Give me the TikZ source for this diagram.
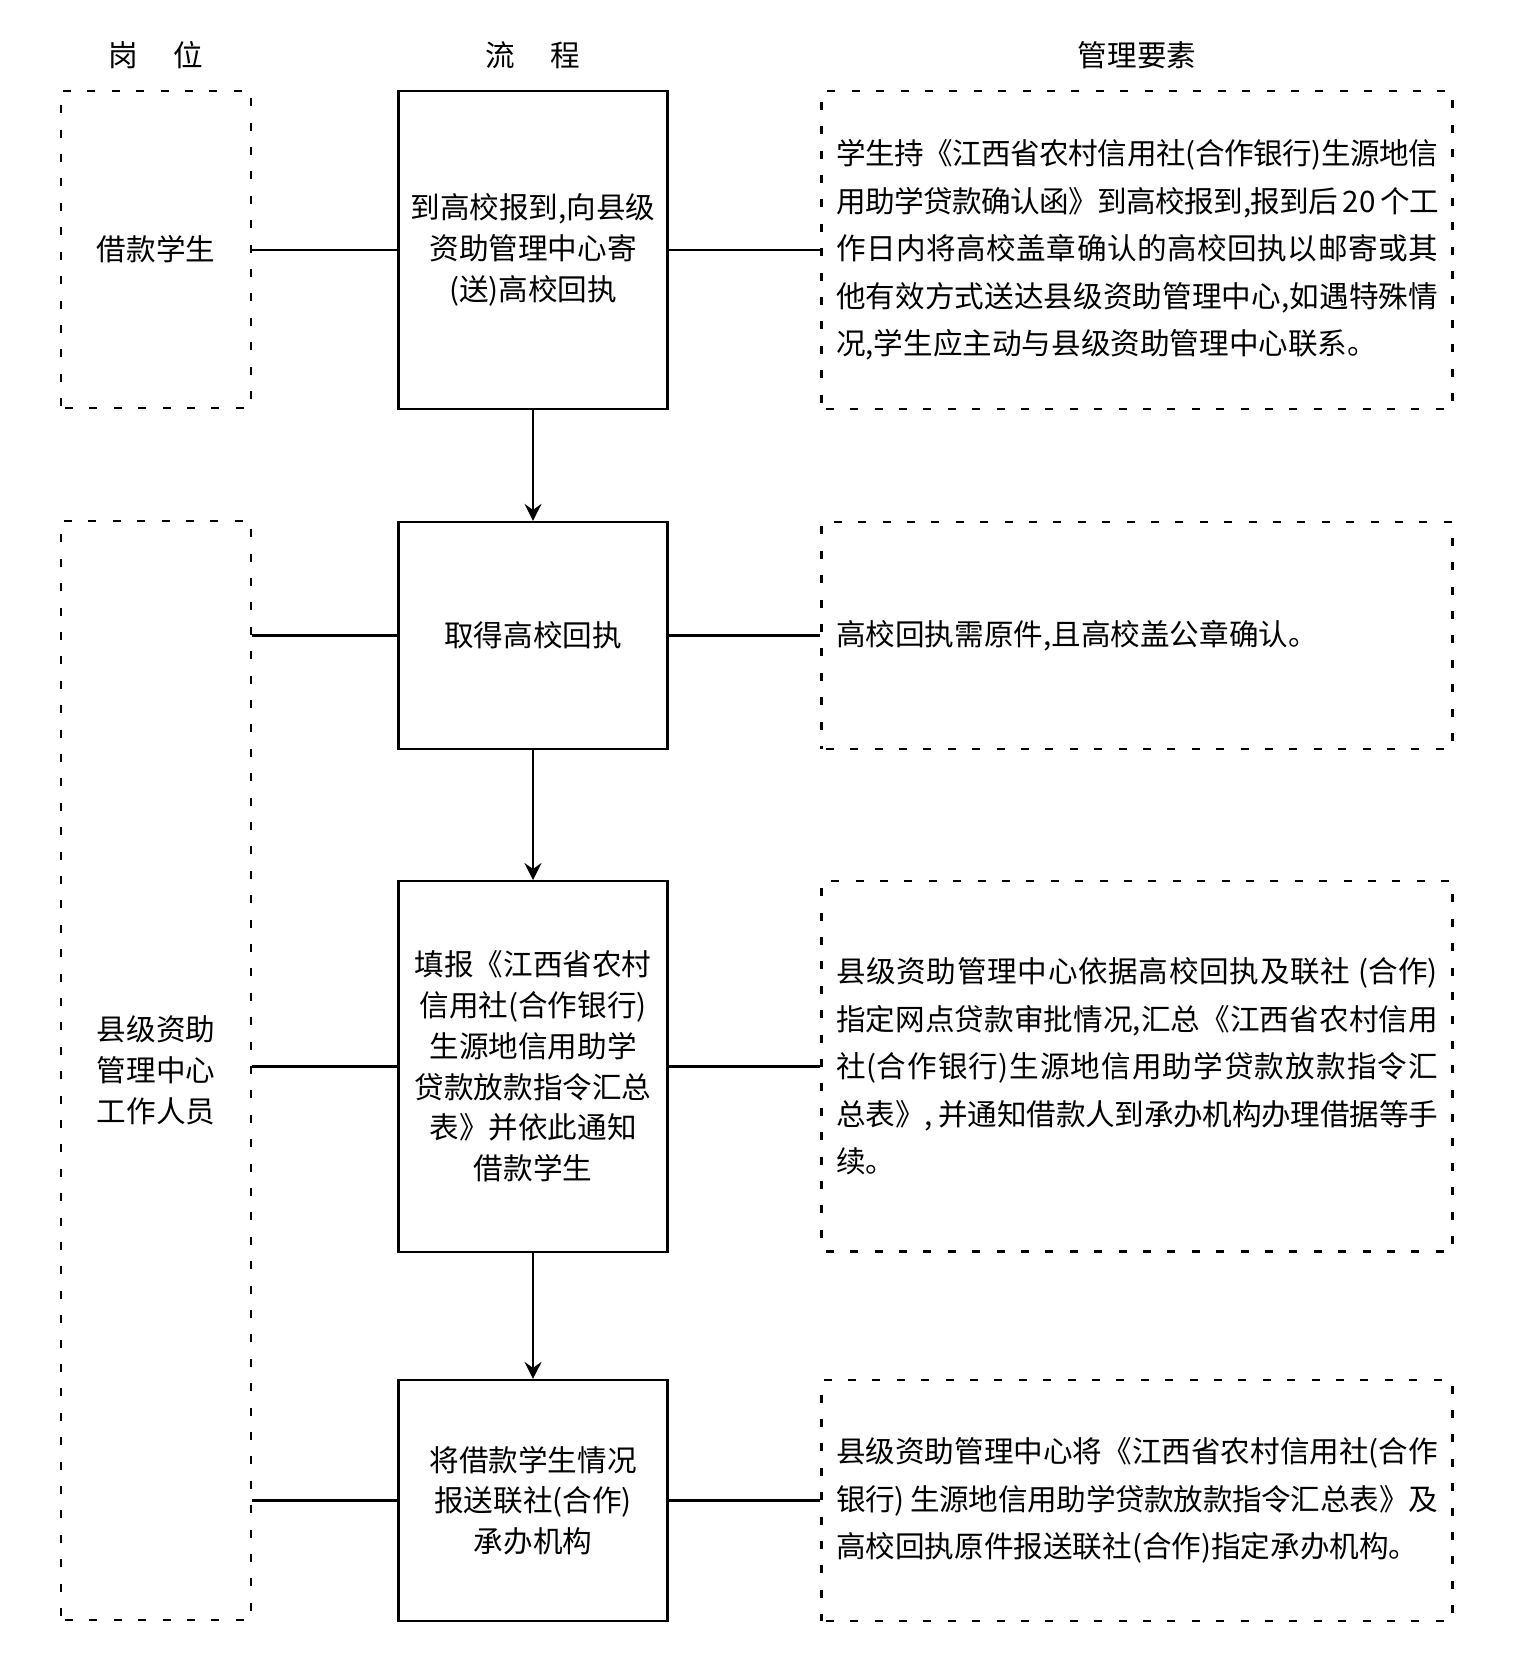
\documentclass[tikz,border=0pt]{standalone}
\usepackage{fontspec}
\setmainfont{Noto Sans CJK SC}
\usetikzlibrary{arrows.meta}
\XeTeXlinebreaklocale "zh"
\XeTeXlinebreakskip=0pt plus 1pt minus 0.3pt
\XeTeXlinebreakpenalty=10000

\tikzset{
  head/.style={font=\fontsize{14.8}{18}\selectfont},
  dashframe/.style={draw, line width=1.25pt, dash pattern=on 4pt off 8.2pt, dash phase=-2pt},
  flowbox/.style={draw, line width=1.1pt, minimum width=134.5pt, align=center,
    font=\fontsize{14.8}{20.4}\selectfont},
  postbox/.style={dashframe, minimum width=95pt, align=center, font=\fontsize{14.8}{20.4}\selectfont},
  notebox/.style={dashframe, minimum width=315.3pt, text width=301pt, align=justify,
    font=\fontsize{14.8}{23.75}\selectfont},
  link/.style={line width=1.1pt},
  flowarrow/.style={line width=1.1pt, -{Stealth[length=8.5pt, width=8.5pt, inset=3pt]}}
}

\begin{document}
\begin{tikzpicture}[x=0.5pt, y=-0.5pt]
\useasboundingbox (0,0) rectangle (1525,1675);

% column heads
\node[head] (hpost) at (156,55) {岗\hspace{1.2em}位};
\node[head] (hflow) at (533,55) {流\hspace{1.2em}程};
\node[head] (hnote) at (1137,55) {管理要素};

% posts
\node[postbox, minimum height=158.6pt] (lb1) at (156,249.5) {借款学生};
\node[postbox, minimum height=549.5pt] (lb2) at (156,1070.5) {县级资助\\管理中心\\工作人员};

% flow
\node[flowbox, minimum height=159pt] (p1) at (533,250) {到高校报到,向县级\\资助管理中心寄\\(送)高校回执};
\node[flowbox, minimum height=113.4pt] (p2) at (533,635.4) {取得高校回执};
\node[flowbox, minimum height=185.3pt] (p3) at (533,1066.4) {填报《江西省农村\\信用社(合作银行)\\生源地信用助学\\贷款放款指令汇总\\表》并依此通知\\借款学生};
\node[flowbox, minimum height=120.5pt] (p4) at (533,1500.5) {将借款学生情况\\报送联社(合作)\\承办机构};

% notes
\node[notebox, minimum height=159pt] (r1) at (1137,250) {学生持《江西省农村信用社(合作银行)生源地信\linebreak 用助学贷款确认函》到高校报到,报到后~20~个工\linebreak 作日内将高校盖章确认的高校回执以邮寄或其\linebreak 他有效方式送达县级资助管理中心,如遇特殊情\linebreak 况,学生应主动与县级资助管理中心联系。};
\node[notebox, minimum height=113.4pt] (r2) at (1137,635.4) {高校回执需原件,且高校盖公章确认。};
\node[notebox, minimum height=185.3pt] (r3) at (1137,1066.4) {县级资助管理中心依据高校回执及联社~(合作)\linebreak 指定网点贷款审批情况,汇总《江西省农村信用\linebreak 社(合作银行)生源地信用助学贷款放款指令汇\linebreak 总表》,~并通知借款人到承办机构办理借据等手\linebreak 续。};
\node[notebox, minimum height=120.5pt] (r4) at (1137,1500.5) {县级资助管理中心将《江西省农村信用社(合作\linebreak 银行)~生源地信用助学贷款放款指令汇总表》及\linebreak 高校回执原件报送联社(合作)指定承办机构。};

% connectors
\draw[link] (lb1.east |- p1.west) -- (p1.west);
\draw[link] (lb2.east |- p2.west) -- (p2.west);
\draw[link] (lb2.east |- p3.west) -- (p3.west);
\draw[link] (lb2.east |- p4.west) -- (p4.west);
\draw[link] (p1.east) -- (r1.west);
\draw[link] (p2.east) -- (r2.west);
\draw[link] (p3.east) -- (r3.west);
\draw[link] (p4.east) -- (r4.west);
\draw[flowarrow] (p1.south) -- (p2.north);
\draw[flowarrow] (p2.south) -- (p3.north);
\draw[flowarrow] (p3.south) -- (p4.north);
\end{tikzpicture}
\end{document}
